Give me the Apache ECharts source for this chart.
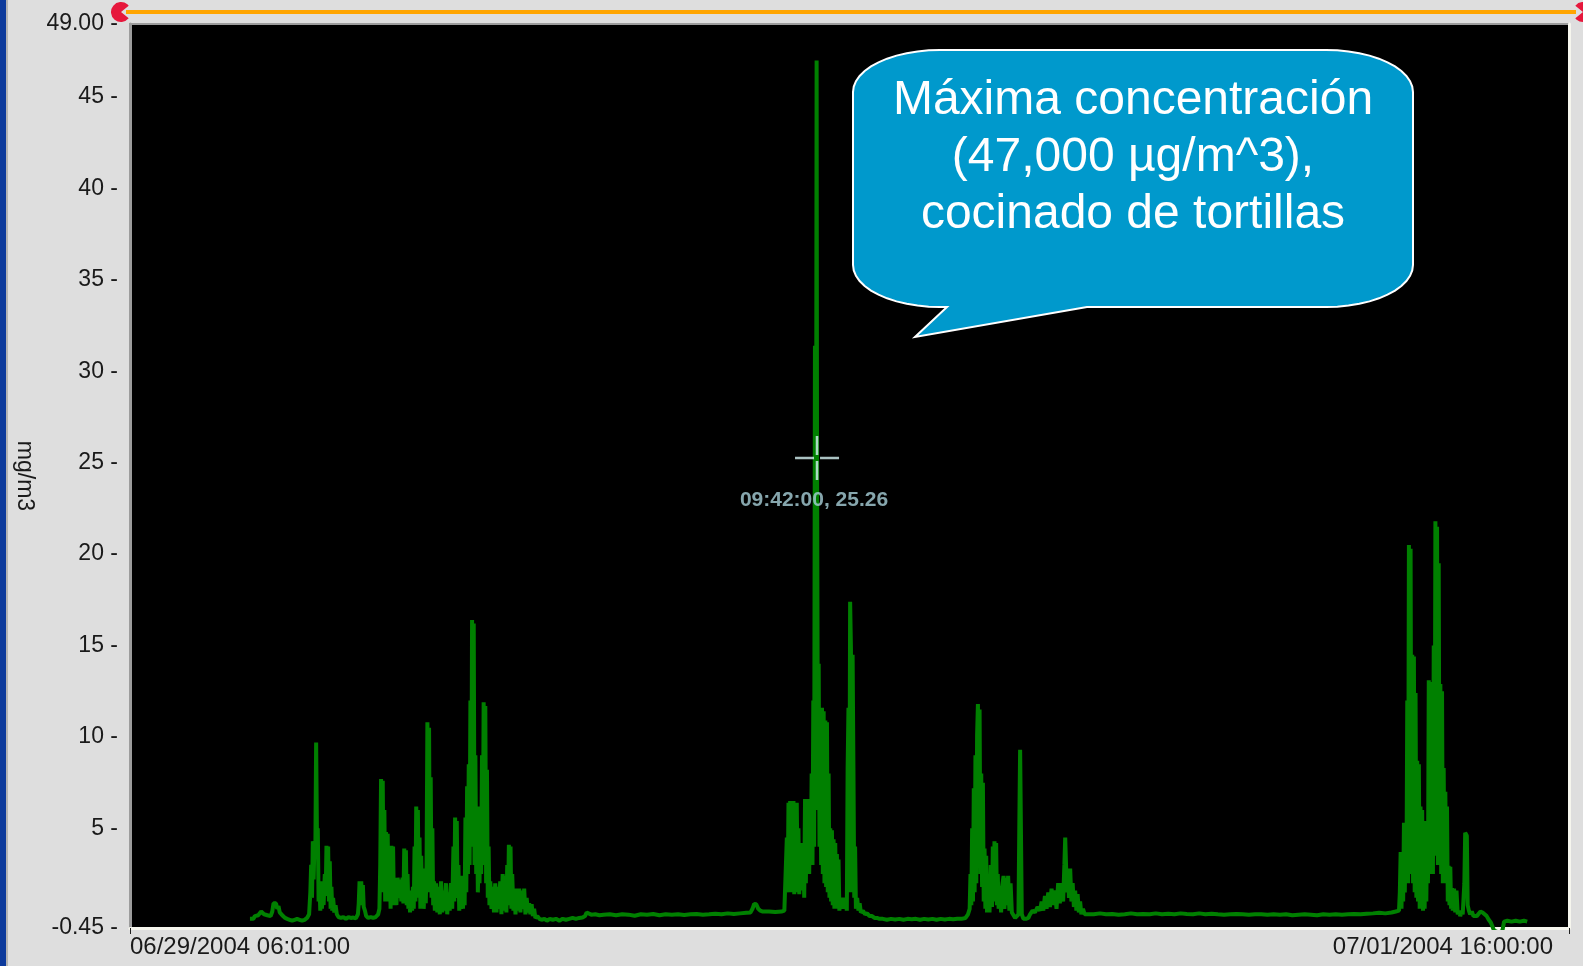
<!DOCTYPE html>
<html>
<head>
<meta charset="utf-8">
<title>Concentración de partículas</title>
<script src="https://cdn.jsdelivr.net/npm/echarts@6/dist/echarts.min.js"></script>
<style>
  html, body { margin: 0; padding: 0; background: #dedede; }
  #chart { width: 1583px; height: 966px; }
</style>
</head>
<body>
<div id="chart"></div>
<script>
// Logging window: 06/29/2004 06:01:00 to 07/01/2004 16:00:00
const startTime = new Date(2004, 5, 29, 6, 1, 0).getTime();
const endTime = new Date(2004, 6, 1, 16, 0, 0).getTime();

// Readings as [minutes since start, mg/m3]
const jun29Morning = [
  [290,0.05],[294,0.1],[298,0.05],[302,0.2],[306,0.15],[310,0.25],[314,0.3],[317,0.45],[320,0.4],[324,0.3],
  [328,0.2],[332,0.25],[336,0.15],[340,0.2],[344,0.45],[347,0.9],[350,0.85],[353,0.9],[356,0.6],[359,0.75],
  [362,0.4],[366,0.3],[370,0.2],[375,0.1],[380,0.05],[386,0.0],[392,-0.05],[398,0.0],[404,0.05],[410,0.0],
  [416,-0.05],[422,0.0],[428,0.1],[433,0.3],
  [436,1.5],[438,3.0],[440,1.2],[442,4.3],[444,2.2],[446,4.3],[448,3.4],[450,9.7],[451,9.7],[452,4.6],[454,5.0],
  [456,1.0],[458,2.1],[460,0.5],[462,2.1],[464,0.6],[466,2.0],[468,0.8],[471,2.5],[473,1.3],[475,4.05],
  [477,1.8],[479,4.0],[481,1.0],[483,3.2],[485,0.6],[487,1.8],[489,0.5],[491,1.2],[494,0.4],[497,0.8],
  [500,0.3],[504,0.15],
  [510,0.1],[516,0.15],[522,0.05],[528,0.15],[534,0.1],[540,0.12],[546,0.08],[551,0.3],
  [553,0.9],[555,2.1],[557,0.8],[559,2.1],[561,1.0],[563,1.9],[565,0.7],[568,0.5],[571,0.2],
  [576,0.1],[582,0.15],[588,0.1],[594,0.15],[600,0.3],
  [603,0.6],[605,3.0],[607,7.7],[609,1.5],[611,7.6],[613,2.0],[615,6.0],[617,1.0],[619,4.8],[621,1.8],
  [623,4.7],[625,1.0],[628,3.5],[630,0.6],[632,4.05],[634,1.0],[636,4.0],[638,0.8],[641,2.3],[644,0.8],
  [647,2.3],[650,1.2],[653,2.2],[656,1.0],[659,2.3],[661,0.9],[663,3.9],[665,1.5],[667,3.8],[669,0.8],
  [671,2.5],[673,0.6],[675,1.6],[677,0.4],
  [680,1.5],[682,0.5],[684,1.8],[686,0.6],[688,4.0],[690,1.0],[692,6.2],[694,1.8],[696,6.0],[698,1.2],
  [700,4.5],[702,0.6],[704,3.5],[706,1.0],[708,2.8],[710,0.6],[713,2.2],[715,0.9],[717,3.0],[719,10.8],
  [720,10.8],[721,2.0],[723,10.5],[725,1.5],[727,7.8],[729,1.2],[731,5.0],[733,0.8],[735,2.1],[737,0.5],[740,2.0],
  [743,0.4],[746,1.8],[749,0.3],[752,2.1],[755,0.4],[758,1.6],[761,0.5],[764,2.0],[767,0.3],[770,1.5],
  [773,0.5],[776,2.0],[779,0.6],[782,4.0],[784,1.0],[786,5.6],[788,1.5],[790,5.4],[792,1.2],[794,3.0],
  [796,0.5],[798,2.1],[800,0.6],[803,2.4],[805,0.6],[807,2.0],[809,0.8],[811,5.6],[813,1.5],[815,7.3],
  [817,2.5],[819,8.5],[821,3.0],[823,12.0],[825,4.0],[827,16.4],[828,16.4],[829,4.0],[831,16.2],[833,3.0],[835,9.0],
  [837,2.5],[839,6.2],[841,1.5],[843,4.0],[845,2.0],[847,6.2],[849,2.5],[851,9.0],[853,3.0],[855,11.9],
  [856,11.9],[857,3.0],[859,11.7],[861,2.0],[863,8.2],[865,1.2],[867,4.0],[869,0.8],[871,2.1],[874,0.6],[877,1.8],
  [880,0.4],[883,2.0],[886,0.4],[889,1.8],[892,0.6],[895,2.1],[898,0.3],[901,2.5],[904,0.5],[907,2.4],
  [910,0.4],[912,3.0],[914,0.8],[916,4.1],[918,1.2],[920,4.0],[922,0.6],[924,2.5],[927,0.5],
  [930,1.2],[932,0.3],[935,1.7],[938,0.5],[941,1.7],[944,0.4],[947,1.6],[950,0.6],[953,1.7],[956,0.3],
  [959,1.2],[962,0.4],[965,0.9],[968,0.3],[971,0.85],[974,0.2],[977,0.6],[980,0.1],[985,0.2],[990,0.05]
];

const jun29Midday = [
  [995,0.0],[1002,0.05],[1008,-0.05],[1015,0.05],[1022,0.0],[1030,0.05],[1038,-0.05],[1046,0.05],[1054,0.0],
  [1062,0.05],[1070,0.1],[1078,0.05],[1086,0.1],[1094,0.12],[1100,0.2],[1104,0.4],[1108,0.3],[1115,0.28],
  [1125,0.3],[1135,0.25],[1145,0.28],[1160,0.3],[1175,0.25],[1190,0.3],[1205,0.28],[1220,0.22],[1235,0.3],
  [1250,0.28],[1265,0.32],[1280,0.25],[1295,0.3],[1310,0.28],[1325,0.3],[1340,0.26],[1355,0.3],[1370,0.32],
  [1385,0.28],[1400,0.3],[1415,0.33],[1430,0.3],[1445,0.35],[1460,0.32],[1475,0.35],[1490,0.38],[1500,0.4],
  [1505,0.6],[1509,0.87],[1514,0.85],[1519,0.6],[1524,0.5],[1530,0.45],[1545,0.45],[1560,0.42],[1575,0.45],
  [1582,0.5]
];

const jun30Morning = [
  [1586,0.6],[1588,4.5],[1590,1.5],[1592,6.4],[1594,2.1],[1596,6.5],[1598,1.5],[1600,6.3],[1602,2.0],
  [1604,6.5],[1606,1.4],[1608,5.5],[1610,1.5],[1612,6.4],[1614,2.0],[1616,5.0],[1618,1.4],[1620,4.2],
  [1622,1.8],[1624,4.0],[1626,1.6],[1628,4.2],[1630,1.2],[1632,6.6],[1634,2.0],[1636,6.4],[1638,3.5],
  [1640,6.6],[1642,2.5],[1644,6.0],[1646,3.0],[1648,8.0],[1650,3.0],[1652,12.0],[1654,4.0],[1656,31.4],
  [1658,6.0],[1660,47.0],[1661,25.26],[1663,9.0],[1665,14.0],[1667,4.0],[1669,8.0],[1671,3.0],[1673,11.6],
  [1675,2.5],[1677,11.4],[1679,2.0],[1681,10.9],[1683,1.8],[1685,10.8],[1687,1.5],[1689,8.0],[1691,1.2],
  [1693,5.0],[1695,1.0],[1697,4.9],[1699,0.8],[1701,4.4],[1703,0.6],[1705,4.2],[1707,0.7],[1709,3.6],
  [1711,0.6],[1713,3.3],[1715,0.5],[1718,1.2],[1721,0.6],[1724,1.2],[1727,0.6],[1730,1.1],[1733,0.5],
  [1735,8.3],[1737,11.6],[1739,1.5],[1741,17.4],[1742,17.4],[1743,14.8],[1745,1.5],[1747,14.5],[1749,8.3],[1751,1.2],
  [1753,4.0],[1755,0.6],[1758,1.2],[1761,0.5],[1764,0.9],[1767,0.4],[1772,0.5],[1777,0.3],[1782,0.35],
  [1788,0.2],[1794,0.2],[1800,0.1],[1806,0.1],[1812,0.05]
];

const jun30Midday = [
  [1820,0.05],[1830,0.0],[1840,0.05],[1850,0.02],[1860,0.05],[1870,0.0],[1880,0.05],[1890,0.03],[1900,0.05],
  [1910,0.0],[1920,0.05],[1930,0.02],[1940,0.05],[1950,0.0],[1960,0.05],[1970,0.02],[1980,0.05],[1990,0.03],
  [2000,0.05],[2010,0.05],[2020,0.1],[2026,0.3],
  [2030,0.6],[2032,2.5],[2034,0.8],[2036,5.0],[2038,1.0],[2040,7.2],[2042,1.5],[2044,9.0],[2046,2.0],
  [2048,10.1],[2050,11.8],[2051,11.8],[2052,3.0],[2054,11.5],[2056,2.5],[2058,8.0],[2060,1.8],[2062,7.5],[2064,1.0],
  [2066,3.9],[2068,0.6],[2070,3.5],[2072,0.4],[2075,2.5],[2078,0.4],[2081,3.0],[2084,0.7],[2086,4.0],
  [2088,1.0],[2090,4.3],[2092,1.2],[2094,4.2],[2096,0.8],[2098,2.5],[2100,0.6],[2103,1.85],[2106,0.4],
  [2109,1.9],[2112,2.4],[2114,0.6],[2117,2.3],[2120,0.8],[2123,2.4],[2126,0.5],[2129,2.0],[2132,0.4],
  [2136,0.3],[2140,0.1],[2144,0.05],[2148,0.3],[2150,5.0],[2152,9.3],[2154,9.2],[2156,0.3],[2160,0.05],
  [2166,0.05],[2172,0.1],
  [2176,0.3],[2182,0.5],[2188,0.4],[2194,0.7],[2200,0.5],[2204,1.0],[2208,0.5],[2212,1.3],[2216,0.6],
  [2220,1.5],[2224,0.7],[2228,1.7],[2232,0.8],[2236,1.6],[2240,0.6],[2244,2.0],[2248,0.9],[2252,2.0],
  [2256,1.0],[2259,3.0],[2261,4.5],[2263,4.4],[2265,1.5],[2268,2.8],[2270,1.2],[2273,2.8],[2276,1.0],
  [2279,2.0],[2282,0.7],[2285,1.6],[2288,0.5],[2291,1.4],[2294,0.4],[2297,1.0],[2300,0.3],[2304,0.6],
  [2308,0.3],[2312,0.35],[2316,0.3]
];

const jun30Night = [
  [2330,0.3],[2345,0.35],[2360,0.3],[2375,0.32],[2390,0.28],[2405,0.3],[2420,0.35],[2435,0.3],[2450,0.32],
  [2465,0.3],[2480,0.35],[2495,0.3],[2510,0.33],[2525,0.3],[2540,0.35],[2555,0.32],[2570,0.3],[2585,0.35],
  [2600,0.3],[2615,0.33],[2630,0.3],[2645,0.28],[2660,0.3],[2675,0.32],[2690,0.3],[2705,0.28],[2720,0.3],
  [2735,0.3],[2750,0.28],[2765,0.3],[2780,0.28],[2795,0.3],[2810,0.25],[2825,0.28],[2840,0.3],[2855,0.28],
  [2870,0.25],[2885,0.3],[2900,0.28],[2915,0.3],[2930,0.28],[2945,0.3],[2960,0.32],[2975,0.3],[2990,0.33],
  [3005,0.35],[3020,0.38],[3035,0.35],[3050,0.4],[3060,0.45]
];

const jul01Morning = [
  [3064,0.4],[3068,0.5],[3070,1.5],[3072,3.7],[3074,0.6],[3076,3.5],[3078,1.0],[3080,5.3],[3082,1.5],
  [3084,5.2],[3086,2.0],[3088,12.0],[3090,2.0],[3092,20.5],[3094,3.0],[3096,20.3],[3098,2.5],[3100,14.5],
  [3102,2.0],[3104,14.4],[3106,1.5],[3108,12.4],[3110,1.2],[3112,8.7],[3114,1.0],[3116,8.5],[3118,0.6],
  [3120,6.2],[3122,0.6],[3124,6.0],[3126,0.5],[3128,4.0],[3130,0.6],[3132,5.4],[3134,1.0],[3136,5.0],
  [3138,2.0],[3140,13.1],[3142,2.5],[3144,13.0],[3146,3.0],[3148,12.5],[3150,2.5],[3152,15.0],[3154,3.5],
  [3156,21.8],[3158,4.0],[3160,21.5],[3162,3.0],[3164,19.5],[3166,3.3],[3168,12.9],[3170,2.5],[3172,12.5],
  [3174,2.0],[3176,8.3],[3178,2.0],[3180,7.0],[3182,2.0],[3184,6.2],[3186,1.0],[3188,2.95],[3190,0.8],
  [3192,2.9],[3194,0.6],[3196,1.74],[3198,0.5],[3201,1.7],[3204,0.4],[3207,1.6],[3210,0.3],[3213,0.5],
  [3216,0.2],[3219,0.45],[3222,0.3],[3226,2.0],[3228,4.76],[3230,4.7],[3232,4.6],[3234,0.8],[3237,0.5],
  [3240,0.3],[3244,0.45],[3248,0.2],[3252,0.3],[3256,0.2],[3260,0.3],[3265,0.45],[3270,0.4],[3275,0.3],
  [3280,0.2],[3285,0.0],[3290,-0.15],[3294,-0.25],[3298,-0.6],[3310,-0.7],[3318,-0.6],[3322,-0.1],
  [3330,-0.05],[3340,-0.1],[3350,-0.05],[3360,-0.1],[3370,-0.05],[3378,-0.1]
];

// Cursor readout: 06/30 09:42:00
const cursorReading = [1661, 25.26];

const yTickValues = [-0.45, 5, 10, 15, 20, 25, 30, 35, 40, 45, 49];
const yAxisTitle = 'mg/m3';
const xAxisTitle = 'Date/Time';
const calloutLines = ['Máxima concentración', '(47,000 µg/m^3),', 'cocinado de tortillas'];

const toPoint = ([m, v]) => [startTime + m * 60000, v];
const readings = [].concat(jun29Morning, jun29Midday, jun30Morning, jun30Midday, jun30Night, jul01Morning).map(toPoint);

const pad = n => String(n).padStart(2, '0');
const fmtClock = t => { const d = new Date(t); return pad(d.getHours()) + ':' + pad(d.getMinutes()) + ':' + pad(d.getSeconds()); };
const fmtStamp = t => { const d = new Date(t); return pad(d.getMonth() + 1) + '/' + pad(d.getDate()) + '/' + d.getFullYear() + ' ' + fmtClock(t); };
const fmtY = v => {
  if (Math.abs(v - 49) < 1e-9) return '49.00 -';
  if (Math.abs(v + 0.45) < 1e-9) return '-0.45 -';
  return String(v) + ' -';
};

// Speech-bubble outline with elliptical corners and a tail
function bubblePoints() {
  const L = 853, R = 1413, T = 50, B = 307, rx = 87, ry = 42;
  const pts = [];
  const arc = (cx, cy, a0, a1) => {
    for (let i = 0; i <= 12; i++) {
      const a = (a0 + (a1 - a0) * i / 12) * Math.PI / 180;
      pts.push([cx + rx * Math.cos(a), cy + ry * Math.sin(a)]);
    }
  };
  arc(R - rx, T + ry, -90, 0);
  arc(R - rx, B - ry, 0, 90);
  pts.push([1087, B], [915, 337], [947, B]);
  arc(L + rx, B - ry, 90, 180);
  arc(L + rx, T + ry, 180, 270);
  return pts;
}

const font = "'Liberation Sans', Arial, sans-serif";
const chart = echarts.init(document.getElementById('chart'), null, { renderer: 'canvas' });

chart.setOption({
  backgroundColor: '#dedede',
  animation: false,
  grid: {
    left: 130, right: 14, top: 24, bottom: 38,
    show: true, backgroundColor: '#000000', borderColor: '#9c9c9c', borderWidth: 2,
    containLabel: false, outerBoundsMode: 'none'
  },
  xAxis: {
    type: 'value', min: startTime, max: endTime, scale: true,
    name: xAxisTitle, nameLocation: 'middle', nameGap: 28,
    nameTextStyle: { fontSize: 24, fontFamily: font, color: '#1a1a1a', padding: [0, 108, 0, 0] },
    axisLine: { show: true, onZero: false, lineStyle: { color: '#f6f6ee', width: 3 } },
    axisTick: { show: true, customValues: [startTime, endTime], length: 6, lineStyle: { color: '#222222', width: 1 } },
    axisLabel: {
      customValues: [startTime, endTime], formatter: v => fmtStamp(v),
      alignMinLabel: 'left', alignMaxLabel: 'right',
      fontSize: 24, fontFamily: font, color: '#1a1a1a', margin: 7, padding: [0, 16, 0, 0]
    },
    splitLine: { show: false }
  },
  yAxis: [{
    type: 'value', min: -0.45, max: 49,
    name: yAxisTitle, nameLocation: 'middle', nameRotate: -90, nameGap: 88,
    nameTextStyle: { fontSize: 23, fontFamily: font, color: '#1a1a1a' },
    axisLine: { show: true, onZero: false, lineStyle: { color: '#9c9c9c', width: 3 } },
    axisTick: { show: false },
    axisLabel: { customValues: yTickValues, formatter: fmtY, fontSize: 23, fontFamily: font, color: '#1a1a1a', margin: 12 },
    splitLine: { show: false }
  }, {
    type: 'value', min: -0.45, max: 49, position: 'right',
    axisLine: { show: true, onZero: false, lineStyle: { color: '#f6f6ee', width: 3 } },
    axisTick: { show: false }, axisLabel: { show: false }, splitLine: { show: false }
  }],
  series: [{
    type: 'line',
    data: readings,
    showSymbol: false, symbol: 'none', silent: true, clip: true,
    lineStyle: { color: '#008000', width: 4, join: 'bevel' },
    z: 2
  }, {
    type: 'scatter',
    data: [toPoint(cursorReading)],
    symbol: 'path://M-22,-1.3H-3V1.3H-22Z M3,-1.3H22V1.3H3Z M-1.3,-22H1.3V-3H-1.3Z M-1.3,3H1.3V22H-1.3Z',
    symbolSize: 44, silent: true, clip: false,
    itemStyle: { color: '#d4f2f2' },
    label: {
      show: true, position: 'bottom', distance: 10, offset: [-3, 0],
      formatter: p => fmtClock(p.value[0]) + ', ' + p.value[1].toFixed(2),
      color: '#a8d0d8', fontWeight: 'bold', fontSize: 21, fontFamily: font
    },
    z: 5
  }],
  graphic: [
    { type: 'rect', shape: { x: 0, y: 0, width: 6, height: 966 }, style: { fill: '#0d3a9c' }, z: 50 },
    { type: 'rect', shape: { x: 6, y: 0, width: 2, height: 966 }, style: { fill: '#b4b4b4' }, z: 50 },
    { type: 'rect', shape: { x: 126, y: 10, width: 1450, height: 4 }, style: { fill: '#ffa500' }, z: 50 },
    { type: 'sector', shape: { cx: 121, cy: 12, r: 10, r0: 0, startAngle: Math.PI * 0.22, endAngle: Math.PI * 1.78, clockwise: true }, style: { fill: '#e6173c' }, z: 51 },
    { type: 'sector', shape: { cx: 1583, cy: 12, r: 10, r0: 0, startAngle: -Math.PI * 0.78, endAngle: Math.PI * 0.78, clockwise: true }, style: { fill: '#e6173c' }, z: 51 },
    { type: 'polygon', shape: { points: bubblePoints() }, style: { fill: '#0099cc', stroke: '#ffffff', lineWidth: 2 }, z: 60 },
    {
      type: 'text', x: 1133, y: 158, z: 61,
      style: { text: calloutLines.join('\n'), fill: '#ffffff', fontSize: 48, fontFamily: font, align: 'center', verticalAlign: 'middle', lineHeight: 57 }
    }
  ]
});
</script>
</body>
</html>
